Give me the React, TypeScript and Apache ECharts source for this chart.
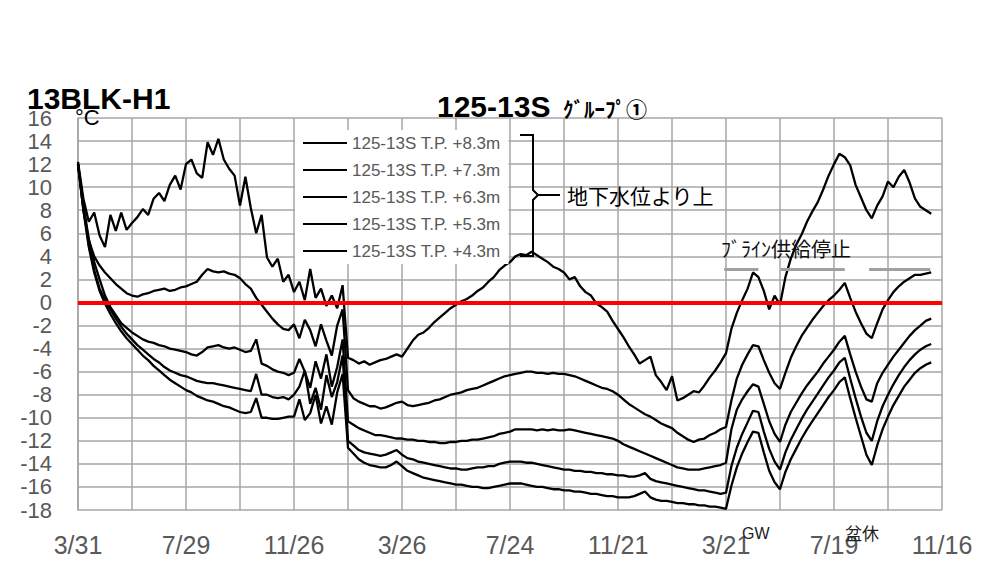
import React, { useEffect, useRef } from "react";
import * as echarts from "echarts";

// x positions: day offsets from 3/31 (first day), sampled every STEP days
const STEP = 6;
const tickLabels = ["3/31", "7/29", "11/26", "3/26", "7/24", "11/21", "3/21", "7/19", "11/16"];
const seriesNames = [
  "125-13S T.P. +8.3m",
  "125-13S T.P. +7.3m",
  "125-13S T.P. +6.3m",
  "125-13S T.P. +5.3m",
  "125-13S T.P. +4.3m",
];

const t83 = [
  12.2, 9.0, 7.0, 7.8, 5.8, 4.8, 7.6, 6.2, 7.8, 6.3,
  6.9, 7.4, 8.1, 7.6, 9.0, 9.5, 8.8, 10.2, 11.0, 9.8,
  12.0, 12.4, 11.2, 10.8, 13.9, 12.8, 14.2, 12.4, 11.6, 11.0,
  8.4, 10.9, 8.2, 6.0, 7.6, 3.9, 3.1, 3.8, 1.8, 2.4,
  0.9, 1.8, 0.2, 2.9, 0.4, 1.2, -0.3, 0.6, -0.5, 1.5,
  -4.8, -5.0, -5.3, -5.1, -5.4, -5.2, -5.0, -4.9, -4.7, -4.5,
  -4.7, -4.0, -3.3, -2.8, -2.6, -2.2, -1.7, -1.3, -0.9, -0.5,
  -0.2, 0.1, 0.3, 0.6, 1.0, 1.3, 1.8, 2.2, 2.8, 3.2,
  3.5, 4.0, 4.2, 4.1, 4.4, 4.1, 3.8, 3.5, 3.1, 2.9,
  2.6, 2.0, 2.2, 1.4, 0.9, 0.6, -0.1, -0.4, -0.8, -1.6,
  -2.3, -3.0, -3.8, -4.5, -5.3, -5.0, -4.7, -6.3, -6.9, -7.6,
  -6.4, -8.5, -8.3, -8.0, -7.7, -7.8, -7.2, -6.5, -5.9, -5.2,
  -4.4, -2.3, -0.9, 0.2, 1.2, 2.6, 2.2, 1.0, -0.6, 0.6,
  -0.2, 2.2, 3.8, 5.0, 5.9, 7.0, 7.9, 8.7, 9.8, 11.0,
  12.0, 12.9, 12.6, 11.9, 10.2, 9.1, 8.0, 7.3, 8.4, 9.2,
  10.5, 10.0, 10.9, 11.5, 10.4, 9.0, 8.3, 8.0, 7.7,
];

const t73 = [
  12.0, 8.0, 5.4, 4.0, 3.2, 2.6, 2.1, 1.6, 1.2, 0.8,
  0.6, 0.5, 0.7, 0.8, 1.0, 1.1, 1.2, 1.0, 1.1, 1.3,
  1.4, 1.6, 1.8, 2.4, 2.9, 2.7, 2.6, 2.7, 2.5, 2.4,
  2.1, 1.6, 1.2, 0.4, -0.2, -0.8, -1.4, -1.9, -2.3, -2.4,
  -1.9, -3.1, -1.5, -2.4, -3.8, -1.9, -3.3, -4.6, -2.0, -0.6,
  -7.6, -8.3, -8.6, -8.8, -9.0, -9.0, -9.2, -9.1, -8.9, -8.7,
  -8.6, -8.9, -9.0, -8.9, -8.8, -8.7, -8.5, -8.4, -8.2, -8.0,
  -7.9, -7.8, -7.6, -7.5, -7.4, -7.2, -7.0, -6.8, -6.6, -6.4,
  -6.3, -6.2, -6.1, -6.0, -6.0, -6.1, -6.1, -6.2, -6.1, -6.2,
  -6.2, -6.3, -6.4, -6.6, -6.8, -7.0, -7.2, -7.4, -7.5, -7.7,
  -8.0, -8.4, -8.8, -9.1, -9.4, -9.7, -9.9, -10.2, -10.5, -10.7,
  -10.9, -11.3, -11.6, -11.9, -12.1, -11.9, -11.8, -11.5, -11.3, -11.0,
  -10.8, -8.5, -6.6, -5.4, -4.5, -3.7, -3.8, -5.0, -6.1, -7.0,
  -7.5, -6.1, -4.8, -3.8, -2.9, -2.2, -1.5, -0.9, -0.3, 0.2,
  0.6, 1.1, 1.7, 0.4, -0.8, -1.8, -2.7, -3.1, -1.8, -0.6,
  0.2, 0.9, 1.4, 1.8, 2.1, 2.4, 2.4, 2.5, 2.6,
];

const t63 = [
  12.0, 8.5, 5.5, 3.5, 2.0, 0.6, -0.4, -1.1, -1.8, -2.2,
  -2.6, -2.9, -3.2, -3.4, -3.5, -3.7, -3.8, -4.0, -4.1, -4.2,
  -4.3, -4.5, -4.6, -4.3, -3.9, -3.8, -3.7, -3.9, -4.0, -3.9,
  -4.1, -4.3, -4.2, -3.2, -5.3, -5.5, -5.8, -6.0, -6.1, -6.3,
  -6.1, -4.9, -6.0, -7.4, -5.1, -6.6, -4.5, -7.3, -5.6, -3.2,
  -10.3, -10.6, -10.9, -11.1, -11.3, -11.5, -11.5, -11.6, -11.7, -11.8,
  -11.8, -11.9, -11.9, -12.0, -12.0, -12.1, -12.1, -12.2, -12.2, -12.1,
  -12.1, -12.0, -12.0, -11.9, -11.9, -11.8, -11.7, -11.6, -11.4, -11.3,
  -11.2, -11.0, -11.0, -11.0, -11.0, -11.1, -11.0, -11.1, -11.0, -11.1,
  -11.1, -11.0, -11.1, -11.2, -11.3, -11.4, -11.5, -11.6, -11.7, -11.8,
  -12.0, -12.3, -12.5, -12.7, -12.9, -13.1, -13.3, -13.5, -13.7, -13.9,
  -14.1, -14.3, -14.4, -14.5, -14.5, -14.5, -14.4, -14.3, -14.2, -14.1,
  -13.9, -11.0, -9.3, -8.4, -7.7, -7.1, -7.3, -8.8, -10.3, -11.4,
  -12.1, -10.6, -9.5, -8.7, -7.9, -7.2, -6.6, -6.0, -5.3, -4.7,
  -4.1, -3.4, -2.9, -4.5, -6.0, -7.3, -8.4, -8.6, -7.0, -6.1,
  -5.4, -4.7, -4.1, -3.5, -2.9, -2.4, -2.0, -1.6, -1.4,
];

const t53 = [
  12.0, 8.2, 5.0, 2.8, 1.2, 0.2, -0.6, -1.4, -2.1, -2.7,
  -3.2, -3.7, -4.1, -4.5, -4.9, -5.2, -5.6, -5.9, -6.1, -6.3,
  -6.4, -6.6, -6.8, -6.9, -7.0, -7.0, -7.1, -7.2, -7.3, -7.4,
  -7.5, -7.6, -7.7, -6.2, -8.0, -8.0, -8.2, -8.3, -8.2, -8.4,
  -8.0, -7.3, -5.9, -8.8, -7.4, -9.3, -6.3, -8.2, -6.9, -4.6,
  -12.0, -12.4, -12.8, -13.0, -13.1, -13.2, -13.3, -13.2, -13.0, -12.8,
  -13.2, -13.5, -13.6, -13.8, -13.9, -14.0, -14.1, -14.2, -14.3, -14.4,
  -14.4, -14.5, -14.5, -14.4, -14.3, -14.3, -14.2, -14.2, -14.0, -13.9,
  -13.8, -13.8, -13.8, -13.9, -13.9, -14.0, -14.1, -14.2, -14.3, -14.4,
  -14.5, -14.5, -14.6, -14.6, -14.7, -14.7, -14.8, -14.8, -14.9, -14.9,
  -15.0, -15.0, -15.1, -15.1, -15.0, -14.8, -15.3, -15.5, -15.6, -15.7,
  -15.8, -15.9, -16.0, -16.1, -16.2, -16.3, -16.3, -16.4, -16.5, -16.6,
  -16.5, -14.2, -12.6, -11.4, -10.4, -9.4, -9.5, -11.2, -12.7, -13.8,
  -14.5, -13.0, -11.9, -11.0, -10.1, -9.3, -8.6, -7.9, -7.2, -6.5,
  -5.9, -5.2, -4.8, -6.6, -8.3, -9.9, -11.3, -12.0, -10.3, -9.0,
  -8.0, -7.1, -6.3, -5.6, -5.0, -4.5, -4.1, -3.8, -3.6,
];

const t43 = [
  12.0, 8.0, 4.8, 2.6, 1.0, -0.1, -1.0, -1.8, -2.5, -3.1,
  -3.6, -4.1, -4.6, -5.0, -5.5, -5.9, -6.3, -6.7, -7.0, -7.3,
  -7.6, -7.8, -8.1, -8.3, -8.5, -8.6, -8.8, -9.0, -9.1, -9.3,
  -9.5, -9.6, -9.5, -8.3, -10.0, -10.0, -10.1, -10.1, -10.0, -9.9,
  -9.9, -8.4, -10.2, -9.6, -8.0, -10.5, -9.0, -10.6, -7.8, -6.2,
  -12.6, -13.1, -13.6, -13.9, -14.1, -14.2, -14.3, -14.3, -14.1, -13.8,
  -14.2, -14.6, -14.8, -15.0, -15.2, -15.3, -15.4, -15.5, -15.6, -15.7,
  -15.8, -15.8, -15.9, -16.0, -16.0, -16.1, -16.1, -16.0, -15.9, -15.8,
  -15.7, -15.7, -15.7, -15.8, -15.9, -16.0, -16.0, -16.1, -16.2, -16.2,
  -16.3, -16.3, -16.4, -16.4, -16.5, -16.6, -16.6, -16.7, -16.8, -16.8,
  -16.9, -16.9, -16.9, -16.8, -16.6, -16.4, -16.9, -17.1, -17.2, -17.2,
  -17.3, -17.4, -17.4, -17.5, -17.5, -17.6, -17.6, -17.7, -17.7, -17.8,
  -17.9, -15.9, -14.3, -13.1, -12.1, -11.2, -11.3, -13.0, -14.6, -15.6,
  -16.2, -14.7, -13.6, -12.7, -11.8, -11.0, -10.3, -9.6, -8.9, -8.2,
  -7.6, -6.9, -6.5, -8.3, -10.0, -11.6, -13.2, -14.1, -12.4, -11.0,
  -9.9, -8.9, -8.1, -7.3, -6.7, -6.1, -5.7, -5.4, -5.2,
];

// brine supply stop periods (start day, end day) and the level at which they are marked
const brineStopPeriods = [
  [718, 756],
  [781, 852],
  [879, 947],
];
const brineStopLevel = 2.9;

const allSeries = [t83, t73, t63, t53, t43];

const NUM = "'Liberation Sans', Arial, sans-serif";
const JP = "'Noto Sans CJK JP', 'Noto Sans', sans-serif";

export default function App() {
  const ref = useRef<HTMLDivElement>(null);

  useEffect(() => {
    if (!ref.current) return;
    const chart = echarts.init(ref.current, undefined, { renderer: "svg" });

    const lineSeries = allSeries.map((vals, si) => ({
      name: seriesNames[si],
      type: "line",
      data: vals.map((v, i) => [i * STEP, v]),
      symbol: "none",
      showSymbol: false,
      lineStyle: { color: "#000", width: 2.3 },
      itemStyle: { color: "#000" },
      z: 3,
    }));

    const option: any = {
      animation: false,
      grid: { left: 78, right: 44, top: 118, bottom: 52 },
      xAxis: {
        type: "value",
        min: 0,
        max: 960,
        interval: 60,
        axisLine: { show: true, lineStyle: { color: "#a6a6a6", width: 1.5 } },
        axisTick: { show: false },
        splitLine: { show: true, lineStyle: { color: "#a6a6a6", width: 1.5 } },
        axisLabel: {
          margin: 22,
          fontSize: 25,
          color: "#595959",
          fontFamily: NUM,
          showMaxLabel: true,
          showMinLabel: true,
          formatter: (v: number) => (v % 120 === 0 ? tickLabels[v / 120] : ""),
        },
      },
      yAxis: {
        type: "value",
        min: -18,
        max: 16,
        interval: 2,
        axisLine: { show: true, lineStyle: { color: "#a6a6a6", width: 1.5 } },
        axisTick: { show: false },
        splitLine: { show: true, lineStyle: { color: "#a6a6a6", width: 1.5 } },
        axisLabel: {
          margin: 26,
          fontSize: 22,
          color: "#595959",
          fontFamily: NUM,
        },
      },
      legend: {
        data: seriesNames,
        orient: "vertical",
        left: 295,
        top: 130,
        padding: [3, 8, 3, 8],
        backgroundColor: "#ffffff",
        icon: "rect",
        itemWidth: 44,
        itemHeight: 2,
        itemGap: 7,
        itemStyle: { color: "#000" },
        textStyle: { fontSize: 17, color: "#595959", fontFamily: NUM, lineHeight: 20, padding: [0, 0, 0, 0] },
        selectedMode: false,
        z: 10,
      },
      series: [
        ...lineSeries,
        {
          name: "zero",
          type: "line",
          data: [],
          silent: true,
          markLine: {
            silent: true,
            symbol: "none",
            label: { show: false },
            lineStyle: { color: "#ff0000", width: 4, type: "solid" },
            data: [{ yAxis: 0 }],
          },
          z: 5,
        },
        {
          name: "brine",
          type: "line",
          data: [],
          silent: true,
          markLine: {
            silent: true,
            symbol: "none",
            label: { show: false },
            lineStyle: { color: "#a0a0a0", width: 3, type: "solid" },
            data: brineStopPeriods.map(([a, b]) => [
              { coord: [a, brineStopLevel] },
              { coord: [b, brineStopLevel] },
            ]),
          },
          z: 4,
        },
      ],
      graphic: [
        {
          type: "text",
          x: 27,
          y: 98,
          style: { text: "13BLK-H1", font: `bold 30px ${NUM}`, fill: "#000", textVerticalAlign: "middle" },
          z: 20,
        },
        {
          type: "text",
          x: 75,
          y: 117,
          style: { text: "°C", font: `22px ${NUM}`, fill: "#000", textVerticalAlign: "middle" },
          z: 20,
        },
        {
          type: "text",
          x: 437,
          y: 106,
          style: { text: "125-13S", font: `bold 30px ${NUM}`, fill: "#000", textVerticalAlign: "middle" },
          z: 20,
        },
        {
          type: "text",
          x: 563,
          y: 108,
          style: { text: "ｸﾞﾙｰﾌﾟ①", font: `bold 21px ${JP}`, fill: "#000", textVerticalAlign: "middle" },
          z: 20,
        },
        {
          type: "polyline",
          shape: {
            points: [
              [520, 135],
              [533, 135],
              [533, 190],
              [538, 195],
              [560, 195],
            ],
          },
          style: { stroke: "#000", lineWidth: 2, fill: null },
          z: 20,
        },
        {
          type: "polyline",
          shape: {
            points: [
              [538, 195],
              [533, 200],
              [533, 256],
              [520, 256],
            ],
          },
          style: { stroke: "#000", lineWidth: 2, fill: null },
          z: 20,
        },
        {
          type: "text",
          x: 567,
          y: 195,
          style: { text: "地下水位より上", font: `21px ${JP}`, fill: "#000", textVerticalAlign: "middle" },
          z: 20,
        },
        {
          type: "text",
          x: 721,
          y: 248,
          style: { text: "ﾌﾞﾗｲﾝ供給停止", font: `20px ${JP}`, fill: "#111", textVerticalAlign: "middle" },
          z: 20,
        },
        {
          type: "text",
          x: 742,
          y: 533,
          style: { text: "GW", font: `16px ${NUM}`, fill: "#222", textVerticalAlign: "middle" },
          z: 20,
        },
        {
          type: "text",
          x: 845,
          y: 532,
          style: { text: "盆休", font: `17px ${JP}`, fill: "#222", textVerticalAlign: "middle" },
          z: 20,
        },
      ],
    };

    chart.setOption(option);
    return () => chart.dispose();
  }, []);

  return (
    <div
      ref={ref}
      style={{ position: "fixed", left: 0, top: 0, width: 986, height: 562, background: "#fff" }}
    />
  );
}
